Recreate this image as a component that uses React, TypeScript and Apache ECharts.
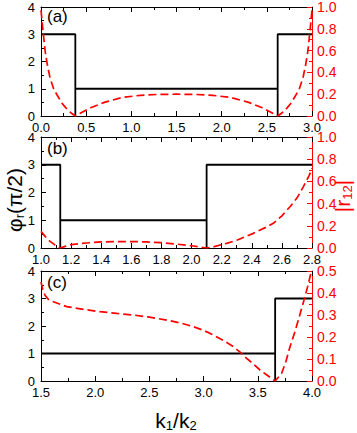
import React, { useEffect, useRef } from "react";
import * as echarts from "echarts";

// ---- Panel (a) ----
const phaseA_x = [0, 0.38, 0.38, 0.38, 2.62, 2.62, 2.62, 3.0];
const phaseA_y = [3, 3, 0, 1, 1, 0, 3, 3];
const rA_x = [0, 0.02, 0.045, 0.07, 0.1, 0.14, 0.18, 0.23, 0.28, 0.33, 0.38, 0.43, 0.55, 0.7, 0.9, 1.1, 1.3, 1.5, 1.7, 1.9, 2.1, 2.3, 2.45, 2.57, 2.62, 2.67, 2.72, 2.77, 2.82, 2.86, 2.9, 2.93, 2.955, 2.98, 3.0];
const rA_y = [0.97, 0.8, 0.6, 0.47, 0.35, 0.25, 0.19, 0.12, 0.07, 0.03, 0, 0.024, 0.075, 0.125, 0.17, 0.19, 0.198, 0.2, 0.198, 0.19, 0.17, 0.125, 0.075, 0.024, 0, 0.03, 0.07, 0.12, 0.19, 0.25, 0.35, 0.47, 0.6, 0.8, 0.97];

// ---- Panel (b) ----
const phaseB_x = [1.0, 1.128, 1.128, 1.128, 2.1, 2.1, 2.1, 2.8];
const phaseB_y = [3, 3, 0, 1, 1, 0, 3, 3];
const rB_x = [1.0, 1.03, 1.06, 1.09, 1.128, 1.16, 1.2, 1.3, 1.4, 1.5, 1.6, 1.7, 1.8, 1.9, 2.0, 2.06, 2.1, 2.15, 2.233, 2.3, 2.41, 2.5, 2.543, 2.6, 2.654, 2.7, 2.742, 2.78, 2.8];
const rB_y = [0.15, 0.1, 0.06, 0.03, 0, 0.015, 0.03, 0.045, 0.055, 0.058, 0.058, 0.055, 0.048, 0.035, 0.02, 0.008, 0, 0.012, 0.042, 0.07, 0.132, 0.19, 0.222, 0.29, 0.372, 0.45, 0.55, 0.65, 0.72];

// ---- Panel (c) ----
const phaseC_x = [1.5, 3.66, 3.66, 3.66, 4.0];
const phaseC_y = [1, 1, 0, 3, 3];
const rC_x = [1.5, 1.52, 1.537, 1.57, 1.614, 1.737, 1.9, 2.044, 2.2, 2.351, 2.5, 2.66, 2.8, 2.906, 3.0, 3.09, 3.18, 3.274, 3.34, 3.397, 3.46, 3.52, 3.59, 3.66, 3.72, 3.76, 3.797, 3.84, 3.874, 3.91, 3.935, 3.96, 3.985, 4.0];
const rC_y = [0.45, 0.41, 0.39, 0.37, 0.36, 0.338, 0.325, 0.315, 0.307, 0.3, 0.29, 0.277, 0.262, 0.247, 0.23, 0.209, 0.185, 0.156, 0.13, 0.103, 0.077, 0.05, 0.025, 0, 0.035, 0.09, 0.156, 0.22, 0.277, 0.34, 0.383, 0.43, 0.48, 0.5];

const panelLabels = ["(a)", "(b)", "(c)"];
const xRanges = [
  [0, 3, 0.5],
  [1.0, 2.8, 0.2],
  [1.5, 4.0, 0.5],
];
const rRanges = [
  [0, 1, 0.2],
  [0, 1, 0.2],
  [0, 0.5, 0.1],
];

const FONT = "Liberation Sans";
const RED = "#ff0000";

const zip = (xs: number[], ys: number[]) => xs.map((x, i) => [x, ys[i]]);

export default function App() {
  const ref = useRef<HTMLDivElement>(null);
  useEffect(() => {
    const chart = echarts.init(ref.current!, null, { renderer: "svg" });
    const tops = [5, 137, 271];
    const heights = [111, 111, 110];
    const grids = tops.map((t, i) => ({ left: 41, right: 45, top: t, height: heights[i], containLabel: false }));

    const xAxis: any[] = [];
    const yAxis: any[] = [];
    const series: any[] = [];
    const phases = [zip(phaseA_x, phaseA_y), zip(phaseB_x, phaseB_y), zip(phaseC_x, phaseC_y)];
    const rs = [zip(rA_x, rA_y), zip(rB_x, rB_y), zip(rC_x, rC_y)];

    for (let i = 0; i < 3; i++) {
      const [xmin, xmax, xint] = xRanges[i];
      xAxis.push({
        gridIndex: i, type: "value", min: xmin, max: xmax, interval: xint, position: "bottom",
        axisLine: { show: true, onZero: false, lineStyle: { color: "#000", width: 1 } },
        axisTick: { show: true, inside: true, length: 5, lineStyle: { color: "#000" } },
        minorTick: { show: true, splitNumber: 2, length: 3, lineStyle: { color: "#000" } },
        axisLabel: { color: "#000", fontSize: 13, lineHeight: 10, fontFamily: FONT, margin: 6, formatter: (v: number) => v.toFixed(1) },
        splitLine: { show: false },
      });
      xAxis.push({
        gridIndex: i, type: "value", min: xmin, max: xmax, interval: xint, position: "top",
        axisLine: { show: true, onZero: false, lineStyle: { color: "#000", width: 1 } },
        axisTick: { show: true, inside: true, length: 5, lineStyle: { color: "#000" } },
        minorTick: { show: true, splitNumber: 2, length: 3, lineStyle: { color: "#000" } },
        axisLabel: { show: false },
        splitLine: { show: false },
      });
      const [rmin, rmax, rint] = rRanges[i];
      yAxis.push({
        gridIndex: i, type: "value", min: 0, max: 4, interval: 1, position: "left",
        axisLine: { show: true, onZero: false, lineStyle: { color: "#000", width: 1 } },
        axisTick: { show: true, inside: true, length: 5, lineStyle: { color: "#000" } },
        minorTick: { show: true, splitNumber: 2, length: 3, lineStyle: { color: "#000" } },
        axisLabel: { color: "#000", fontSize: 13, lineHeight: 10, fontFamily: FONT, margin: 6 },
        splitLine: { show: false },
      });
      yAxis.push({
        gridIndex: i, type: "value", min: rmin, max: rmax, interval: rint, position: "right",
        axisLine: { show: true, onZero: false, lineStyle: { color: RED, width: 1 } },
        axisTick: { show: true, inside: true, length: 5, lineStyle: { color: RED } },
        minorTick: { show: true, splitNumber: 2, length: 3, lineStyle: { color: RED } },
        axisLabel: { color: RED, fontSize: 14, lineHeight: 11, fontFamily: FONT, margin: 5, formatter: (v: number) => v.toFixed(1) },
        splitLine: { show: false },
      });
      series.push({
        type: "line", xAxisIndex: 2 * i, yAxisIndex: 2 * i, data: phases[i], symbol: "none",
        lineStyle: { color: "#000", width: 1.8 }, z: 3,
      });
      series.push({
        type: "line", xAxisIndex: 2 * i, yAxisIndex: 2 * i + 1, data: rs[i], symbol: "none",
        lineStyle: { color: RED, width: 1.7, type: [8, 4] }, z: 4,
      });
    }

    const graphic: any[] = tops.map((t, i) => ({
      type: "text", left: 47, top: t + 3,
      style: { text: panelLabels[i], fontSize: 17, fontFamily: FONT, fill: "#000" },
    }));
    const sub = { fontSize: 13, fontFamily: FONT, padding: [10, 0, 0, 0] };
    graphic.push({
      type: "text", x: 14, y: 200, rotation: Math.PI / 2,
      style: {
        text: "{n|φ}{s|r}{n|(π/2)}", align: "center", verticalAlign: "middle",
        rich: { n: { fontSize: 21, fontFamily: FONT, fill: "#000" }, s: { ...sub, fill: "#000" } },
      },
    });
    graphic.push({
      type: "text", x: 342, y: 196, rotation: Math.PI / 2,
      style: {
        text: "{n||r}{s|12}{n||}", align: "center", verticalAlign: "middle",
        rich: { n: { fontSize: 21, fontFamily: FONT, fill: RED }, s: { ...sub, fill: RED } },
      },
    });
    graphic.push({
      type: "text", x: 176, y: 420,
      style: {
        text: "{n|k}{s|1}{n|/k}{s|2}", align: "center", verticalAlign: "middle",
        rich: { n: { fontSize: 21, fontFamily: FONT, fill: "#000" }, s: { ...sub, fill: "#000" } },
      },
    });

    chart.setOption({
      animation: false,
      grid: grids,
      xAxis,
      yAxis,
      series,
      graphic,
    });
    return () => chart.dispose();
  }, []);
  return <div ref={ref} style={{ position: "fixed", left: 0, top: 0, width: 357, height: 433, background: "#fff" }} />;
}
